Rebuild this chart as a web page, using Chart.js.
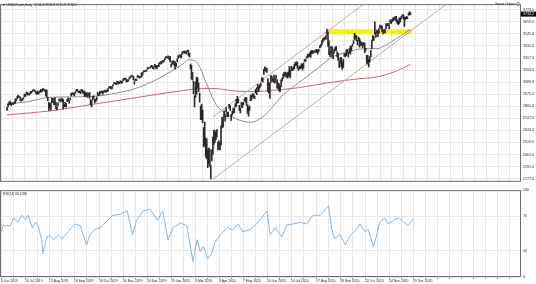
<!DOCTYPE html>
<html>
<head>
<meta charset="utf-8">
<script src="https://cdn.jsdelivr.net/npm/chart.js@4.4.0/dist/chart.umd.min.js"></script>
<style>
  html, body { margin:0; padding:0; background:#fff; }
  #wrap { position:relative; width:536px; height:284px; overflow:hidden; }
  #priceBox { position:absolute; left:0; top:0; width:536px; height:186px; }
  #rsiBox { position:absolute; left:0; top:186px; width:536px; height:98px; }
</style>
</head>
<body>
<div id="wrap">
  <div id="priceBox"><canvas id="price"></canvas></div>
  <div id="rsiBox"><canvas id="rsi"></canvas></div>
</div>
<script>
// daily bars, 6 Jun 2019 .. 30 Dec 2020 (bar index = position)
const highs = [
  // Jun 2019
  2852,2885,2904,2911,2888,2895,2893,2898,2931,2930,2958,2964,2955,2947,2932,2929,2943,
  // Jul
  2977,2974,2996,2994,2981,2980,3002,3003,3014,3018,3015,3005,2996,3006,2990,3005,3020,3016,3028,3026,3017,3017,
  // Aug
  3013,2945,2898,2885,2892,2938,2935,2910,2943,2899,2856,2893,2931,2927,2928,2939,2927,2879,2898,2890,2930,2941,
  // Sep
  2914,2938,2985,2985,2989,2980,3001,3021,3021,3002,3006,3007,3022,3016,2999,3007,2990,2987,2987,2983,
  // Oct
  2992,2925,2911,2953,2959,2925,2929,2948,2993,2972,3003,2997,3008,3000,3008,3014,3005,3016,3028,3044,3047,3050,3046,
  // Nov
  3067,3084,3084,3078,3098,3094,3088,3102,3098,3097,3120,3124,3127,3118,3110,3112,3134,3142,3154,3151,
  // Dec
  3144,3095,3120,3119,3150,3148,3142,3143,3177,3182,3197,3198,3198,3206,3226,3227,3226,3240,3247,3240,3231,
  // Jan 2020
  3258,3246,3246,3245,3268,3276,3283,3288,3295,3298,3317,3330,3329,3338,3327,3334,3259,3285,3293,3285,3282,
  // Feb
  3268,3306,3337,3347,3341,3352,3375,3381,3385,3381,3375,3393,3389,3361,3259,3247,3182,3097,2959,
  // Mar
  3091,3136,3130,3083,2985,2863,2882,2825,2660,2711,2562,2553,2453,2467,2453,2300,2449,2571,2637,2615,2631,2641,
  // Apr
  2522,2534,2515,2677,2756,2760,2819,2782,2851,2801,2806,2880,2868,2785,2815,2844,2843,2887,2926,2954,2930,
  // May
  2869,2844,2898,2891,2901,2932,2945,2944,2874,2853,2865,2968,2964,2980,2979,2957,3021,3036,3068,3049,
  // Jun
  3063,3081,3130,3129,3211,3233,3223,3223,3123,3088,3079,3153,3141,3121,3155,3120,3154,3113,3083,3074,3053,3111,
  // Jul
  3128,3165,3183,3184,3170,3180,3187,3235,3200,3238,3220,3233,3258,3277,3280,3279,3227,3241,3243,3264,3254,3272,
  // Aug
  3302,3306,3331,3351,3352,3364,3382,3387,3387,3378,3387,3395,3399,3390,3399,3432,3444,3481,3501,3510,3514,
  // Sep
  3528,3588,3565,3479,3379,3424,3425,3368,3402,3419,3428,3376,3362,3285,3320,3323,3279,3306,3360,3357,3393,
  // Oct
  3398,3369,3409,3431,3427,3447,3479,3550,3534,3528,3485,3515,3500,3476,3464,3460,3466,3457,3409,3342,3342,3305,
  // Nov
  3331,3390,3486,3529,3521,3660,3557,3581,3569,3593,3628,3624,3620,3586,3582,3589,3642,3641,3644,3634,
  // Dec
  3678,3670,3682,3699,3697,3708,3712,3678,3665,3698,3695,3711,3726,3726,3703,3702,3712,3703,3740,3756,3744
];
const lows = [
  2822,2854,2876,2874,2868,2882,2877,2886,2891,2911,2932,2946,2944,2911,2912,2917,2929,
  2952,2955,2975,2967,2970,2965,2981,2988,3001,3011,3002,2984,2976,2975,2976,2989,2996,2997,3006,3015,3001,2958,
  2945,2914,2822,2847,2825,2894,2900,2873,2877,2839,2825,2865,2913,2899,2917,2904,2834,2856,2860,2853,2905,2914,
  2891,2921,2960,2972,2970,2959,2982,3004,3003,2990,2993,2979,3003,2985,2982,2957,2953,2964,2945,2967,
  2938,2874,2855,2918,2935,2892,2907,2917,2963,2962,2974,2986,2991,2976,2994,2996,2991,2999,3002,3032,3034,3026,3024,
  3050,3074,3072,3065,3080,3071,3075,3084,3078,3081,3104,3110,3114,3091,3094,3099,3118,3132,3143,3139,
  3110,3070,3102,3103,3134,3136,3126,3133,3138,3156,3183,3189,3191,3192,3211,3217,3220,3227,3235,3216,3212,
  3235,3222,3214,3233,3236,3264,3260,3268,3277,3280,3302,3320,3316,3320,3302,3281,3234,3256,3271,3242,3214,
  3235,3280,3313,3334,3322,3317,3353,3369,3360,3366,3355,3378,3341,3328,3214,3118,3108,2977,2856,
  2945,2976,3034,2999,2901,2734,2734,2707,2478,2492,2380,2367,2280,2319,2295,2174,2345,2407,2500,2520,2545,2572,
  2448,2455,2448,2495,2657,2664,2762,2721,2805,2761,2764,2843,2821,2728,2776,2794,2800,2852,2860,2891,2892,
  2821,2798,2853,2847,2877,2913,2903,2869,2794,2767,2821,2913,2922,2953,2939,2933,2988,2970,3023,2998,
  3032,3052,3098,3090,3163,3194,3193,3181,2999,2984,2935,3086,3108,3093,3084,3079,3122,3033,3025,3004,2999,3047,
  3101,3125,3155,3142,3141,3127,3136,3149,3128,3200,3198,3205,3215,3245,3249,3222,3200,3214,3216,3225,3204,3220,
  3284,3286,3318,3317,3328,3335,3323,3356,3363,3362,3379,3370,3369,3354,3379,3413,3423,3444,3468,3484,3494,
  3494,3535,3427,3349,3329,3366,3329,3310,3363,3389,3384,3328,3293,3229,3270,3232,3209,3229,3333,3327,3340,
  3361,3324,3367,3354,3385,3428,3452,3485,3501,3481,3440,3483,3419,3436,3433,3416,3440,3367,3389,3268,3260,3233,
  3280,3330,3405,3484,3484,3543,3511,3557,3518,3553,3601,3594,3567,3544,3557,3552,3594,3620,3629,3595,
  3645,3645,3657,3670,3679,3678,3660,3645,3633,3645,3659,3688,3710,3685,3615,3678,3689,3690,3723,3723,3730
];
const lastPrice = 3732.2;

// moving averages (bar index, price)
const ma50Idx = [0,20,42,64,85,107,128,150,172,178,186,196,205,220,239,251,261,270,280,290,306,320,335,344,355,363,372,382,390,396];
const ma50Val = [2880,2905,2945,2950,2955,2985,3035,3130,3257,3300,3280,3070,2880,2765,2710,2760,2860,2960,3040,3110,3230,3330,3375,3400,3405,3405,3440,3500,3550,3590];
const ma200Idx = [0,42,85,128,172,191,205,220,239,258,286,315,344,363,382,396];
const ma200Val = [2780,2817,2881,2945,3009,3028,3028,3009,3000,3009,3037,3083,3120,3138,3193,3257];

// channel + resistance band
const chanLowIdx = [202,440];
const chanLowVal = [2172,3890];
const chanUpIdx = [202,440];
const chanUpVal = [2759,4477];
const bandIdx = [314,397];
const bandVal = [3566,3566];

// RSI(14)
const rsiIdx = [0,2,9,12,16,20,23,26,30,33,35,39,40,44,47,50,55,59,64,71,76,79,82,85,90,95,102,107,114,121,126,130,136,143,150,155,160,165,172,178,184,188,191,194,198,202,205,210,217,222,227,232,239,245,255,258,263,269,274,280,287,293,299,306,314,317,320,325,330,335,341,344,349,352,357,360,363,368,371,376,381,385,390,395,396];
const rsiVal = [52,59,59,68,63,71,66,71,57,63,61,43,27,46,48,43,48,44,52,61,59,48,37,48,55,57,65,71,72,76,49,65,76,78,65,76,43,57,62,59,18,43,29,35,21,27,40,48,57,54,61,52,55,61,76,49,57,46,60,61,63,61,71,71,82,55,44,49,37,48,55,61,52,55,35,48,63,68,61,65,68,65,59,67,66];

// axes
const labelIdx = [0,23,46,70,94,117,140,163,186,209,232,255,278,302,325,349,372,395];
const dateLabels = ['6 Jun 2019','10 Jul 2019','12 Aug 2019','16 Sep 2019','18 Oct 2019','20 Nov 2019','24 Dec 2019','29 Jan 2020','3 Mar 2020','3 Apr 2020','7 May 2020','10 Jun 2020','14 Jul 2020','17 Aug 2020','18 Sep 2020','22 Oct 2020','24 Nov 2020','29 Dec 2020'];
const priceTicks = [2177,2291,2405,2519,2633,2747,2861,2975,3089,3203,3317,3431,3545,3659,3773];
const rsiTicks = [0,30,70,100];

const X_MIN = -1, X_MAX = 498.5;
const gridX = [];
labelIdx.forEach((v, i) => {
  gridX.push(v);
  if (i < labelIdx.length - 1) gridX.push((v + labelIdx[i + 1]) / 2);
});
for (let v = 395 + 11.6; v < X_MAX; v += 11.6) gridX.push(v);

const pts = (xs, ys) => xs.map((x, i) => ({ x: x, y: ys[i] }));
const FONT = { family: 'Liberation Sans', size: 3.6 };
const DATE_FONT = { family: 'Liberation Sans', size: 3.4 };
const GRID = '#e6e6e6';
Chart.defaults.animation = false;

const frame = {
  id: 'frame',
  afterDraw(chart) {
    const { ctx, chartArea: a } = chart;
    ctx.save();
    ctx.strokeStyle = '#6f6f6f';
    ctx.lineWidth = 1;
    ctx.strokeRect(a.left + 0.5, a.top + 0.5, a.right - a.left - 1, a.bottom - a.top - 1);
    ctx.font = '3.3px "Liberation Sans"';
    ctx.textBaseline = 'middle';
    if (chart.canvas.id === 'price') {
      ctx.fillStyle = '#222';
      ctx.fillText('\u25BC US500Cash,Daily  3724.4 3736.8 3715.8 3732.2', 2, 5);
      ctx.textAlign = 'right';
      ctx.fillText('Smart Orders', 515, 4);
      ctx.strokeStyle = '#888';
      ctx.beginPath(); ctx.arc(518, 4, 1.5, 0, Math.PI * 2); ctx.stroke();
      const y = chart.scales.y.getPixelForValue(lastPrice);
      ctx.fillStyle = '#000';
      ctx.fillRect(a.right, y - 2.5, 536 - a.right, 5);
      ctx.fillStyle = '#fff';
      ctx.textAlign = 'left';
      ctx.font = '3.6px "Liberation Sans"';
      ctx.fillText(lastPrice.toFixed(1), a.right + 2, y);
    } else {
      ctx.fillStyle = '#222';
      ctx.fillText('RSI(14) 66.5286', 3, a.top + 4);
    }
    ctx.restore();
  }
};

const xScale = (showLabels, h) => ({
  type: 'linear', min: X_MIN, max: X_MAX,
  afterBuildTicks: s => { s.ticks = gridX.map(v => ({ value: v })); },
  afterFit: s => { s.height = h; },
  border: { display: false },
  grid: { color: GRID, drawTicks: showLabels, tickLength: 2, tickColor: '#777' },
  ticks: {
    display: showLabels, autoSkip: false, maxRotation: 0, align: 'start', padding: 0,
    font: DATE_FONT, color: '#222',
    callback: v => { const k = labelIdx.indexOf(v); return k >= 0 ? dateLabels[k] : ''; }
  }
});

new Chart(document.getElementById('price'), {
  type: 'bar',
  data: {
    datasets: [
      { type: 'line', data: pts(bandIdx, bandVal), borderColor: '#f5f500', borderWidth: 5, pointRadius: 0, order: 6 },
      { type: 'line', data: pts(ma200Idx, ma200Val), borderColor: '#b46e6e', borderWidth: 1, pointRadius: 0, cubicInterpolationMode: 'monotone', order: 5 },
      { type: 'line', data: pts(ma50Idx, ma50Val), borderColor: '#8c8c8c', borderWidth: 1, pointRadius: 0, cubicInterpolationMode: 'monotone', order: 4 },
      { type: 'line', data: pts(chanLowIdx, chanLowVal), borderColor: '#c9a9a4', borderWidth: 1, pointRadius: 0, order: 3 },
      { type: 'line', data: pts(chanUpIdx, chanUpVal), borderColor: '#c9a9a4', borderWidth: 1, pointRadius: 0, order: 3 },
      { type: 'bar', data: highs.map((h, i) => ({ x: i, y: [lows[i], h] })), backgroundColor: '#2a2a2a', borderWidth: 0, barThickness: 1, grouped: false, order: 1 }
    ]
  },
  options: {
    responsive: true, maintainAspectRatio: false,
    layout: { padding: { top: 1, bottom: 2, left: 0, right: 0 } },
    plugins: { legend: { display: false }, tooltip: { enabled: false } },
    scales: {
      x: xScale(false, 0),
      y: {
        position: 'right', min: 2147, max: 3826,
        afterBuildTicks: s => { s.ticks = priceTicks.map(v => ({ value: v })); },
        afterFit: s => { s.width = 15; },
        border: { display: false },
        grid: { color: GRID, drawTicks: false },
        ticks: { font: FONT, color: '#222', padding: 2, callback: v => v.toFixed(1) }
      }
    }
  },
  plugins: [frame]
});

new Chart(document.getElementById('rsi'), {
  type: 'line',
  data: {
    datasets: [
      { data: pts(rsiIdx, rsiVal), borderColor: '#86b4d8', borderWidth: 1, pointRadius: 0, tension: 0 }
    ]
  },
  options: {
    responsive: true, maintainAspectRatio: false,
    layout: { padding: { top: 1, bottom: 0, left: 0, right: 0 } },
    plugins: { legend: { display: false }, tooltip: { enabled: false } },
    scales: {
      x: xScale(true, 7),
      y: {
        position: 'right', min: 0, max: 100,
        afterBuildTicks: s => { s.ticks = rsiTicks.map(v => ({ value: v })); },
        afterFit: s => { s.width = 15; },
        border: { display: false },
        grid: { color: GRID, drawTicks: false },
        ticks: { font: FONT, color: '#222', padding: 2 }
      }
    }
  },
  plugins: [frame]
});
</script>
</body>
</html>
